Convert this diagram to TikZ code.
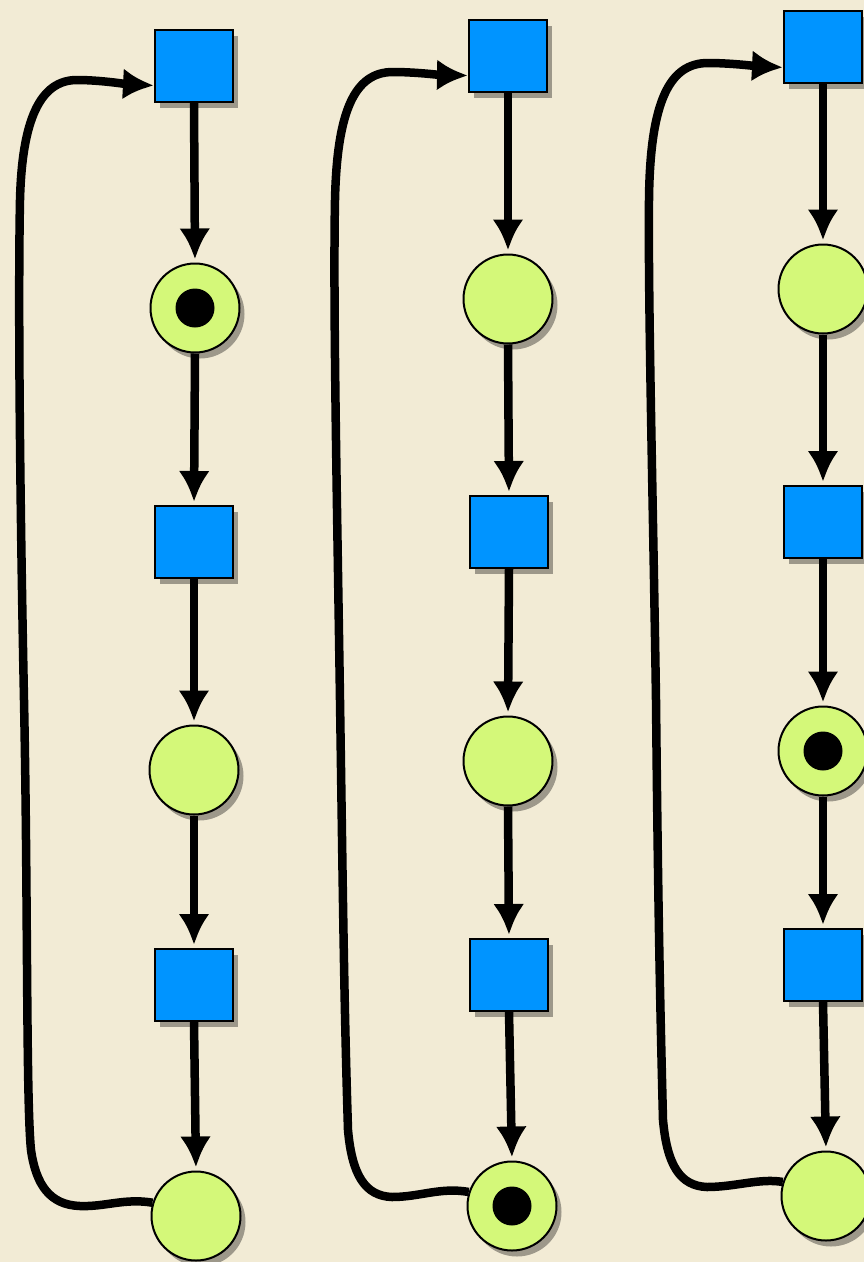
\documentclass[tikz,border=0pt]{standalone}
\usepackage{tikz}
\usetikzlibrary{arrows.meta,shadows}
\definecolor{PaperBg}{HTML}{F2EBD5}
\definecolor{TransBlue}{HTML}{0094FF}
\definecolor{PlaceGreen}{HTML}{D4F879}

\begin{document}
\begin{tikzpicture}[x=1pt, y=-1pt,
    softshadow/.style={drop shadow={shadow xshift=5pt, shadow yshift=-6pt, opacity=0.35, fill=black}},
    transbox/.style={draw=black, line width=2pt, fill=TransBlue, minimum width=78pt, minimum height=72pt, inner sep=0pt, softshadow},
    placenode/.style={circle, draw=black, line width=2pt, fill=PlaceGreen, minimum size=89pt, inner sep=0pt, softshadow},
    tokenplace/.style={placenode, path picture={\fill[black] (path picture bounding box.center) circle (19.5pt);}},
    netarc/.style={line width=8.5pt, -{Latex[length=31pt,width=31pt]}, shorten >=3pt}]
    \fill[PaperBg] (0,0) rectangle (864,1262);
    \useasboundingbox (0,0) rectangle (864,1262);
    % first column
    \node[transbox] (c1t1) at (194,66) {};
    \node[tokenplace] (c1p1) at (195,308) {};
    \node[transbox] (c1t2) at (194,542) {};
    \node[placenode] (c1p2) at (194,770) {};
    \node[transbox] (c1t3) at (194,985) {};
    \node[placenode] (c1p3) at (196,1216) {};
    % second column
    \node[transbox] (c2t1) at (508,56) {};
    \node[placenode] (c2p1) at (508,299) {};
    \node[transbox] (c2t2) at (509,532) {};
    \node[placenode] (c2p2) at (508,761) {};
    \node[transbox] (c2t3) at (509,975) {};
    \node[tokenplace] (c2p3) at (512,1206) {};
    % third column
    \node[transbox] (c3t1) at (823,47) {};
    \node[placenode] (c3p1) at (823,289) {};
    \node[transbox] (c3t2) at (823,522) {};
    \node[tokenplace] (c3p2) at (823,751) {};
    \node[transbox] (c3t3) at (823,965) {};
    \node[placenode] (c3p3) at (826,1196) {};
    \draw[netarc] (c1t1.south) -- (c1p1.north);
    \draw[netarc] (c1p1.south) -- (c1t2.north);
    \draw[netarc] (c1t2.south) -- (c1p2.north);
    \draw[netarc] (c1p2.south) -- (c1t3.north);
    \draw[netarc] (c1t3.south) -- (c1p3.north);
    \draw[netarc] (c2t1.south) -- (c2p1.north);
    \draw[netarc] (c2p1.south) -- (c2t2.north);
    \draw[netarc] (c2t2.south) -- (c2p2.north);
    \draw[netarc] (c2p2.south) -- (c2t3.north);
    \draw[netarc] (c2t3.south) -- (c2p3.north);
    \draw[netarc] (c3t1.south) -- (c3p1.north);
    \draw[netarc] (c3p1.south) -- (c3t2.north);
    \draw[netarc] (c3t2.south) -- (c3p2.north);
    \draw[netarc] (c3p2.south) -- (c3t3.north);
    \draw[netarc] (c3t3.south) -- (c3p3.north);
    % loops back to the top
    \draw[netarc, shorten >=0pt] (c1p3.163) .. controls (125,1198) and (105,1207) .. (80,1206)
      .. controls (50,1205) and (36,1185) .. (31,1150) .. controls (26,1100) and (28,900) .. (24,700)
      .. controls (20,500) and (18,300) .. (20,200) .. controls (22,120) and (40,80) .. (77,80)
      .. controls (100,80) and (125,84) .. (c1t1.206);
    \draw[netarc, shorten >=0pt] (c2p3.162) .. controls (440,1187) and (420,1197) .. (392,1197)
      .. controls (365,1196) and (352,1175) .. (348,1130) .. controls (344,1000) and (343,900) .. (340,700)
      .. controls (337,500) and (333,300) .. (335,200) .. controls (337,110) and (355,72) .. (393,72)
      .. controls (415,72) and (440,75) .. (c2t1.206);
    \draw[netarc, shorten >=0pt] (c3p3.162) .. controls (760,1178) and (735,1187) .. (707,1187)
      .. controls (680,1186) and (667,1165) .. (663,1120) .. controls (660,1000) and (658,900) .. (656,700)
      .. controls (653,500) and (648,300) .. (649,200) .. controls (650,100) and (670,63) .. (708,63)
      .. controls (730,63) and (755,66) .. (c3t1.207);
\end{tikzpicture}
\end{document}
